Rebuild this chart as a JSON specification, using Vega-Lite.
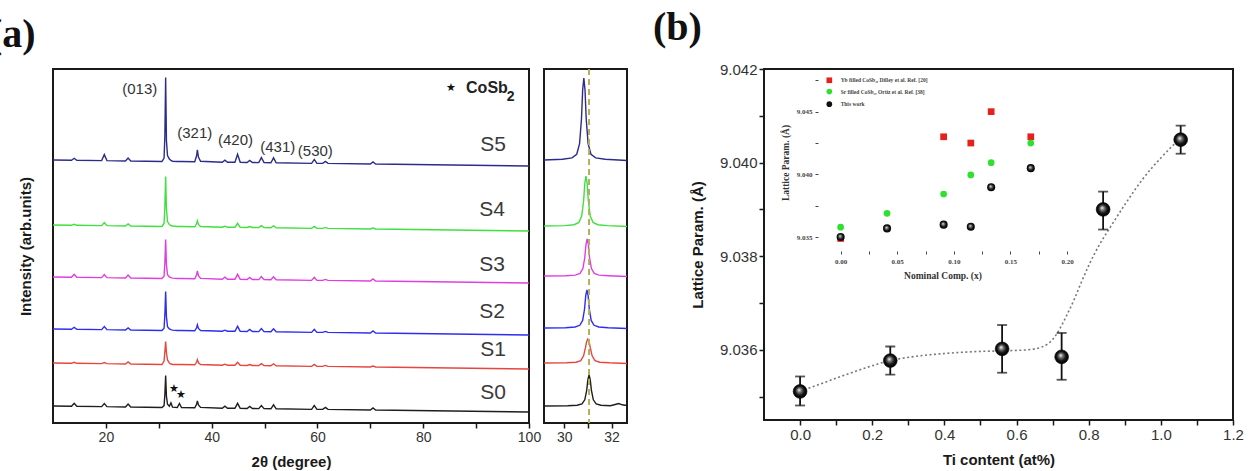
{
"$schema": "https://vega.github.io/schema/vega-lite/v6.json",
"autosize": {"type": "none"},
"padding": {"left": 53, "top": 69, "right": 1202, "bottom": 402},
"background": "white",
"config": {
  "view": {"stroke": "#1a1a1a", "strokeWidth": 2},
  "axis": {"grid": false, "domain": false, "labelFont": "Liberation Sans", "labelFontSize": 14, "labelColor": "#333", "tickColor": "#1a1a1a", "tickWidth": 1.5, "tickSize": 5, "titleFont": "Liberation Sans", "titleFontSize": 15, "titleFontWeight": "bold", "titleColor": "#1a1a1a", "labelOverlap": false, "labelFlush": false},
  "title": {"font": "Liberation Serif", "fontSize": 40, "fontWeight": "bold", "color": "#111", "anchor": "start", "frame": "group", "baseline": "alphabetic"}
},
"bounds": "flush",
"spacing": 15,
"hconcat": [
  {
   "width": 476, "height": 354,
   "title": {"text": "(a)", "dx": -64, "offset": 14},
   "layer": [
    {
     "data": {"values": [
      {"t":10,"S0":17,"S1":60,"S2":94,"S3":146,"S4":198,"S5":263},
      {"t":13.5,"S0":16.7,"S1":59.7,"S2":93.7,"S3":145.7,"S4":197.7,"S5":262.7},
      {"t":14,"S0":19.7,"S1":60.7,"S2":95.7,"S3":148.7,"S4":198.7,"S5":264.7},
      {"t":14.5,"S0":16.7,"S1":59.7,"S2":93.7,"S3":145.7,"S4":197.7,"S5":262.7},
      {"t":19.2,"S0":16.4,"S1":59.4,"S2":93.4,"S3":145.4,"S4":197.4,"S5":262.4},
      {"t":19.7,"S0":19.4,"S1":60.4,"S2":96.4,"S3":148.4,"S4":200.4,"S5":268.4},
      {"t":20.2,"S0":16.4,"S1":59.4,"S2":93.4,"S3":145.4,"S4":197.4,"S5":262.4},
      {"t":23.7,"S0":16,"S1":59,"S2":93,"S3":145,"S4":197,"S5":262},
      {"t":24.2,"S0":19,"S1":61,"S2":95,"S3":148,"S4":199,"S5":265},
      {"t":24.7,"S0":16,"S1":59,"S2":93,"S3":145,"S4":197,"S5":262},
      {"t":30.6,"S0":15.5,"S1":58.5,"S2":92.5,"S3":144.5,"S4":196.5,"S5":261.5},
      {"t":31.0,"S0":17.4,"S1":62,"S2":94.8,"S3":146.8,"S4":199.5,"S5":264.9},
      {"t":31.15,"S0":28.3,"S1":71.2,"S2":108.1,"S3":160.1,"S4":216.5,"S5":286.7},
      {"t":31.3,"S0":47.5,"S1":81.5,"S2":131.5,"S3":183.5,"S4":246.5,"S5":345.5},
      {"t":31.45,"S0":26.7,"S1":70,"S2":106.2,"S3":158.2,"S4":214,"S5":282.5},
      {"t":31.65,"S0":18.7,"S1":63.1,"S2":96.4,"S3":148.4,"S4":201.5,"S5":267.4},
      {"t":32.0,"S0":16.8,"S1":59.9,"S2":94.1,"S3":146.1,"S4":198.5,"S5":264},
      {"t":32.3,"S0":20.1,"S1":59,"S2":93.3,"S3":145.3,"S4":197.5,"S5":262.5},
      {"t":32.6,"S0":15.8,"S1":58.5,"S2":92.9,"S3":144.9,"S4":197,"S5":261.8},
      {"t":33.5,"S0":15.5,"S1":58.5,"S2":92.5,"S3":144.5,"S4":196.5,"S5":261.5},
      {"t":33.9,"S0":19.5,"S1":58.5,"S2":92.5,"S3":144.5,"S4":196.5,"S5":261.5},
      {"t":34.3,"S0":15.5,"S1":58.5,"S2":92.5,"S3":144.5,"S4":196.5,"S5":261.5},
      {"t":36.8,"S0":15.2,"S1":58.2,"S2":92.2,"S3":144.2,"S4":196.2,"S5":261.2},
      {"t":37.15,"S0":18.7,"S1":60.7,"S2":95.2,"S3":148.2,"S4":199.2,"S5":267.2},
      {"t":37.3,"S0":22.2,"S1":63.2,"S2":98.2,"S3":152.2,"S4":202.2,"S5":273.2},
      {"t":37.5,"S0":18,"S1":60.2,"S2":94.6,"S3":147.4,"S4":198.6,"S5":266},
      {"t":37.9,"S0":15.6,"S1":58.5,"S2":92.5,"S3":144.6,"S4":196.5,"S5":261.8},
      {"t":42,"S0":14.8,"S1":57.8,"S2":91.8,"S3":143.8,"S4":195.8,"S5":260.8},
      {"t":42.5,"S0":16.8,"S1":58.8,"S2":92.8,"S3":145.8,"S4":196.8,"S5":262.8},
      {"t":43,"S0":14.8,"S1":57.8,"S2":91.8,"S3":143.8,"S4":195.8,"S5":260.8},
      {"t":44.4,"S0":14.7,"S1":57.7,"S2":91.7,"S3":143.7,"S4":195.7,"S5":260.7},
      {"t":44.9,"S0":19.7,"S1":60.7,"S2":96.7,"S3":148.7,"S4":199.7,"S5":268.7},
      {"t":45.4,"S0":14.7,"S1":57.7,"S2":91.7,"S3":143.7,"S4":195.7,"S5":260.7},
      {"t":46.7,"S0":14.5,"S1":57.5,"S2":91.5,"S3":143.5,"S4":195.5,"S5":260.5},
      {"t":47.2,"S0":16.5,"S1":58.5,"S2":93.5,"S3":145.5,"S4":196.5,"S5":262.5},
      {"t":47.7,"S0":14.5,"S1":57.5,"S2":91.5,"S3":143.5,"S4":195.5,"S5":260.5},
      {"t":48.9,"S0":14.4,"S1":57.4,"S2":91.4,"S3":143.4,"S4":195.4,"S5":260.4},
      {"t":49.4,"S0":17.4,"S1":59.4,"S2":94.4,"S3":146.4,"S4":197.4,"S5":265.4},
      {"t":49.9,"S0":14.4,"S1":57.4,"S2":91.4,"S3":143.4,"S4":195.4,"S5":260.4},
      {"t":51.2,"S0":14.2,"S1":57.2,"S2":91.2,"S3":143.2,"S4":195.2,"S5":260.2},
      {"t":51.7,"S0":18.2,"S1":59.2,"S2":94.2,"S3":146.2,"S4":197.2,"S5":265.2},
      {"t":52.2,"S0":14.2,"S1":57.2,"S2":91.2,"S3":143.2,"S4":195.2,"S5":260.2},
      {"t":58.9,"S0":13.6,"S1":56.6,"S2":90.6,"S3":142.6,"S4":194.6,"S5":259.6},
      {"t":59.4,"S0":17.6,"S1":58.6,"S2":93.6,"S3":145.6,"S4":196.6,"S5":263.6},
      {"t":59.9,"S0":13.6,"S1":56.6,"S2":90.6,"S3":142.6,"S4":194.6,"S5":259.6},
      {"t":61,"S0":13.6,"S1":56.6,"S2":90.6,"S3":142.6,"S4":194.6,"S5":259.6},
      {"t":61.5,"S0":15.6,"S1":57.6,"S2":91.6,"S3":143.6,"S4":195.6,"S5":261.6},
      {"t":62,"S0":13.6,"S1":56.6,"S2":90.6,"S3":142.6,"S4":194.6,"S5":259.6},
      {"t":70,"S0":13,"S1":56,"S2":90,"S3":142,"S4":194,"S5":259},
      {"t":70.5,"S0":15,"S1":57,"S2":92,"S3":144,"S4":195,"S5":261},
      {"t":71,"S0":13,"S1":56,"S2":90,"S3":142,"S4":194,"S5":259},
      {"t":100,"S0":11,"S1":54,"S2":88,"S3":140,"S4":192,"S5":257}
     ]},
     "transform": [{"fold": ["S0","S1","S2","S3","S4","S5"], "as": ["sample","I"]}],
     "mark": {"type": "line", "strokeWidth": 1.4},
     "encoding": {
      "x": {"field": "t", "type": "quantitative", "scale": {"domain": [10,100], "nice": false, "zero": false},
            "axis": {"values": [20,30,40,50,60,70,80,90,100], "labelExpr": "datum.value % 20 == 0 ? datum.label : ''", "title": "2θ (degree)", "titlePadding": 10}},
      "y": {"field": "I", "type": "quantitative", "scale": {"domain": [0,354], "nice": false, "zero": false},
            "axis": {"labels": false, "ticks": false, "title": "Intensity (arb.units)", "titlePadding": 20}},
      "color": {"field": "sample", "type": "nominal", "scale": {"domain": ["S0","S1","S2","S3","S4","S5"], "range": ["#1e1e1e","#e5473f","#2e2ef0","#e03fe0","#3fe03f","#2c2c8a"]}, "legend": null}
     }
    },
    {
     "data": {"values": [
      {"t":26.4,"I":334,"label":"(013)"},
      {"t":36.8,"I":290,"label":"(321)"},
      {"t":44.5,"I":283,"label":"(420)"},
      {"t":52.5,"I":276,"label":"(431)"},
      {"t":59.6,"I":272,"label":"(530)"}
     ]},
     "mark": {"type": "text", "fontSize": 15, "color": "#333", "font": "Liberation Sans"},
     "encoding": {"x": {"field": "t", "type": "quantitative"}, "y": {"field": "I", "type": "quantitative"}, "text": {"field": "label"}}
    },
    {
     "data": {"values": [
      {"t":93.2,"I":278,"label":"S5"},
      {"t":93.0,"I":213,"label":"S4"},
      {"t":93.0,"I":158,"label":"S3"},
      {"t":93.0,"I":111,"label":"S2"},
      {"t":93.2,"I":73,"label":"S1"},
      {"t":93.2,"I":30,"label":"S0"}
     ]},
     "mark": {"type": "text", "fontSize": 21, "color": "#3a3a3a", "font": "Liberation Sans"},
     "encoding": {"x": {"field": "t", "type": "quantitative"}, "y": {"field": "I", "type": "quantitative"}, "text": {"field": "label"}}
    },
    {
     "data": {"values": [{"t":32.8,"I":34},{"t":34.2,"I":28},{"t":85.3,"I":335}]},
     "mark": {"type": "text", "text": "★", "fontSize": 11, "color": "#111"},
     "encoding": {"x": {"field": "t", "type": "quantitative"}, "y": {"field": "I", "type": "quantitative"}}
    },
    {
     "data": {"values": [{}]},
     "mark": {"type": "text", "text": "CoSb", "fontSize": 16, "fontWeight": "bold", "align": "left", "color": "#222", "font": "Liberation Sans"},
     "encoding": {"x": {"datum": 88.1}, "y": {"datum": 335}}
    },
    {
     "data": {"values": [{}]},
     "mark": {"type": "text", "text": "2", "fontSize": 14, "fontWeight": "bold", "align": "left", "color": "#222", "font": "Liberation Sans"},
     "encoding": {"x": {"datum": 95.8}, "y": {"datum": 326}}
    }
   ]
  },
  {
   "width": 83, "height": 354,
   "layer": [
    {
     "data": {"values": [
      {"s":"S5","t":29.15,"I":263},{"s":"S5","t":29.93,"I":263.7},{"s":"S5","t":30.33,"I":265.1},{"s":"S5","t":30.53,"I":268.7},{"s":"S5","t":30.65,"I":279.4},{"s":"S5","t":30.73,"I":304},{"s":"S5","t":30.78,"I":332.7},{"s":"S5","t":30.83,"I":345},{"s":"S5","t":30.88,"I":332.7},{"s":"S5","t":30.93,"I":304},{"s":"S5","t":31.01,"I":279.4},{"s":"S5","t":31.13,"I":268.7},{"s":"S5","t":31.33,"I":265.1},{"s":"S5","t":31.73,"I":263.7},{"s":"S5","t":32.65,"I":262.5},
      {"s":"S4","t":29.15,"I":197},{"s":"S4","t":30.02,"I":197.4},{"s":"S4","t":30.42,"I":198.3},{"s":"S4","t":30.62,"I":200.5},{"s":"S4","t":30.74,"I":207},{"s":"S4","t":30.82,"I":222},{"s":"S4","t":30.87,"I":239.5},{"s":"S4","t":30.92,"I":247},{"s":"S4","t":30.97,"I":239.5},{"s":"S4","t":31.02,"I":222},{"s":"S4","t":31.10,"I":207},{"s":"S4","t":31.22,"I":200.5},{"s":"S4","t":31.42,"I":198.3},{"s":"S4","t":31.82,"I":197.4},{"s":"S4","t":32.65,"I":196.5},
      {"s":"S3","t":29.15,"I":147},{"s":"S3","t":30.07,"I":147.3},{"s":"S3","t":30.47,"I":147.9},{"s":"S3","t":30.67,"I":149.6},{"s":"S3","t":30.79,"I":154.4},{"s":"S3","t":30.87,"I":165.5},{"s":"S3","t":30.92,"I":178.5},{"s":"S3","t":30.97,"I":184},{"s":"S3","t":31.02,"I":178.5},{"s":"S3","t":31.07,"I":165.5},{"s":"S3","t":31.15,"I":154.4},{"s":"S3","t":31.27,"I":149.6},{"s":"S3","t":31.47,"I":147.9},{"s":"S3","t":31.87,"I":147.3},{"s":"S3","t":32.65,"I":146.5},
      {"s":"S2","t":29.15,"I":95},{"s":"S2","t":30.06,"I":95.3},{"s":"S2","t":30.46,"I":96},{"s":"S2","t":30.66,"I":97.7},{"s":"S2","t":30.78,"I":102.6},{"s":"S2","t":30.86,"I":114},{"s":"S2","t":30.91,"I":127.3},{"s":"S2","t":30.96,"I":133},{"s":"S2","t":31.01,"I":127.3},{"s":"S2","t":31.06,"I":114},{"s":"S2","t":31.14,"I":102.6},{"s":"S2","t":31.26,"I":97.7},{"s":"S2","t":31.46,"I":96},{"s":"S2","t":31.86,"I":95.3},{"s":"S2","t":32.65,"I":94.5},
      {"s":"S1","t":29.15,"I":60},{"s":"S1","t":30.1,"I":60.2},{"s":"S1","t":30.5,"I":60.8},{"s":"S1","t":30.7,"I":62.4},{"s":"S1","t":30.82,"I":67.2},{"s":"S1","t":30.9,"I":75.6},{"s":"S1","t":30.95,"I":81.6},{"s":"S1","t":31.0,"I":84},{"s":"S1","t":31.05,"I":81.6},{"s":"S1","t":31.1,"I":75.6},{"s":"S1","t":31.18,"I":67.2},{"s":"S1","t":31.3,"I":62.4},{"s":"S1","t":31.5,"I":60.8},{"s":"S1","t":31.9,"I":60.2},{"s":"S1","t":32.65,"I":59.5},
      {"s":"S0","t":29.15,"I":17},{"s":"S0","t":30.15,"I":17.2},{"s":"S0","t":30.55,"I":17.8},{"s":"S0","t":30.75,"I":19.2},{"s":"S0","t":30.87,"I":23.2},{"s":"S0","t":30.95,"I":32.5},{"s":"S0","t":31.0,"I":43.4},{"s":"S0","t":31.05,"I":48},{"s":"S0","t":31.1,"I":43.4},{"s":"S0","t":31.15,"I":32.5},{"s":"S0","t":31.23,"I":23.2},{"s":"S0","t":31.35,"I":19.2},{"s":"S0","t":31.55,"I":17.8},{"s":"S0","t":31.95,"I":17.2},{"s":"S0","t":32.15,"I":18.5},{"s":"S0","t":32.3,"I":19.5},{"s":"S0","t":32.45,"I":18.2},{"s":"S0","t":32.65,"I":17.5}
     ]},
     "mark": {"type": "line", "strokeWidth": 1.4},
     "encoding": {
      "x": {"field": "t", "type": "quantitative", "scale": {"domain": [29.15,32.65], "nice": false, "zero": false},
            "axis": {"values": [30,31,32], "labelExpr": "datum.value == 31 ? '' : datum.label", "title": null}},
      "y": {"field": "I", "type": "quantitative", "scale": {"domain": [0,354], "nice": false, "zero": false}, "axis": null},
      "color": {"field": "s", "type": "nominal", "scale": {"domain": ["S0","S1","S2","S3","S4","S5"], "range": ["#1e1e1e","#e5473f","#2e2ef0","#e03fe0","#3fe03f","#2c2c8a"]}, "legend": null}
     }
    },
    {
     "data": {"values": [{}]},
     "mark": {"type": "rule", "color": "#b3b05a", "strokeWidth": 2, "strokeDash": [6,4]},
     "encoding": {"x": {"datum": 31.05}}
    }
   ]
  },
  {
   "width": 107, "height": 10,
   "view": {"stroke": null},
   "data": {"values": []},
   "mark": {"type": "point", "opacity": 0},
   "encoding": {}
  },
 {
  "width": 469, "height": 351,
  "title": {"text": "(b)", "dx": -111, "offset": 14},
  "resolve": {"scale": {"x": "independent", "y": "independent"}, "axis": {"x": "independent", "y": "independent"}},
  "layer": [
   {
    "encoding": {
     "x": {"field": "x", "type": "quantitative", "scale": {"domain": [-0.1,1.2], "nice": false, "zero": false},
           "axis": {"values": [0,0.1,0.2,0.3,0.4,0.5,0.6,0.7,0.8,0.9,1.0,1.1,1.2], "labelExpr": "round(datum.value*10) % 2 == 0 ? format(datum.value, '.1f') : ''", "title": "Ti content (at%)", "titlePadding": 10, "labelFontSize": 15}}
    },
    "layer": [
     {
      "data": {"values": [
       {"x":0,"y":9.03511},{"x":0.06,"y":9.03528},{"x":0.12,"y":9.03545},{"x":0.18,"y":9.03561},{"x":0.25,"y":9.03577},{"x":0.32,"y":9.03586},{"x":0.40,"y":9.03592},{"x":0.48,"y":9.03596},{"x":0.57,"y":9.03598},{"x":0.63,"y":9.036},{"x":0.67,"y":9.03606},{"x":0.70,"y":9.03622},{"x":0.72,"y":9.03645},{"x":0.74,"y":9.03675},{"x":0.76,"y":9.03708},{"x":0.78,"y":9.03745},{"x":0.80,"y":9.0378},{"x":0.83,"y":9.03825},{"x":0.86,"y":9.03862},{"x":0.90,"y":9.0391},{"x":0.95,"y":9.03965},{"x":1.00,"y":9.0401},{"x":1.05,"y":9.04049}
      ]},
      "mark": {"type": "line", "color": "#777", "strokeWidth": 1.6, "strokeDash": [2,2.5], "interpolate": "monotone"},
      "encoding": {"y": {"field": "y", "type": "quantitative", "scale": {"domain": [9.0345,9.042], "nice": false, "zero": false},
        "axis": {"values": [9.035,9.036,9.037,9.038,9.039,9.04,9.041,9.042], "labelExpr": "round(datum.value*1000) % 2 == 0 ? format(datum.value, '.3f') : ''", "title": "Lattice Param. (Å)", "titlePadding": 14, "labelFontSize": 15}}}
     },
     {
      "data": {"values": [
       {"x":0,"y":9.03511,"lo":9.03481,"hi":9.03543},
       {"x":0.25,"y":9.03577,"lo":9.03547,"hi":9.03607},
       {"x":0.56,"y":9.03602,"lo":9.03551,"hi":9.03653},
       {"x":0.725,"y":9.03585,"lo":9.03536,"hi":9.03636},
       {"x":0.84,"y":9.039,"lo":9.03857,"hi":9.03938},
       {"x":1.055,"y":9.04049,"lo":9.04019,"hi":9.04079}
      ]},
      "layer": [
       {"mark": {"type": "rule", "color": "#111", "strokeWidth": 1.8},
        "encoding": {"y": {"field": "lo", "type": "quantitative", "title": "Lattice Param. (Å)"}, "y2": {"field": "hi"}}},
       {"mark": {"type": "tick", "orient": "horizontal", "size": 10, "thickness": 1.8, "color": "#111"},
        "encoding": {"y": {"field": "lo", "type": "quantitative", "title": "Lattice Param. (Å)"}}},
       {"mark": {"type": "tick", "orient": "horizontal", "size": 10, "thickness": 1.8, "color": "#111"},
        "encoding": {"y": {"field": "hi", "type": "quantitative", "title": "Lattice Param. (Å)"}}},
       {"mark": {"type": "point", "filled": true, "shape": "circle", "size": 190, "opacity": 1, "stroke": "#000", "strokeWidth": 0.6,
          "fill": {"gradient": "radial", "x1": 0.42, "y1": 0.38, "r1": 0, "x2": 0.5, "y2": 0.5, "r2": 0.5, "stops": [{"offset": 0, "color": "#ffffff"}, {"offset": 0.3, "color": "#777777"}, {"offset": 0.65, "color": "#151515"}, {"offset": 1, "color": "#000000"}]}},
        "encoding": {"y": {"field": "y", "type": "quantitative", "title": "Lattice Param. (Å)"}}}
      ]
     }
    ]
   },
   {
    "encoding": {
     "x": {"field": "x", "type": "quantitative", "scale": {"domain": [-0.02,0.2], "range": [54,303], "nice": false, "zero": false},
           "axis": {"orient": "bottom", "offset": -169, "values": [0,0.025,0.05,0.075,0.1,0.125,0.15,0.175,0.2], "labelExpr": "round(datum.value*1000) % 50 == 0 ? format(datum.value, '.2f') : ''", "labelFont": "Liberation Serif", "labelFontSize": 7, "labelFontWeight": "bold", "labelColor": "#444", "tickSize": 3, "tickWidth": 1, "tickColor": "#444", "labelPadding": 3, "title": "Nominal Comp. (x)", "titleFont": "Liberation Serif", "titleFontSize": 9.5, "titleColor": "#333", "titlePadding": 6}},
     "y": {"field": "y", "type": "quantitative", "scale": {"domain": [9.0339,9.048], "range": [182,5], "nice": false, "zero": false},
           "axis": {"orient": "left", "offset": -54, "values": [9.035,9.0375,9.04,9.0425,9.045,9.0475], "labelExpr": "round(datum.value*10000) % 50 == 0 ? format(datum.value, '.3f') : ''", "labelFont": "Liberation Serif", "labelFontSize": 7, "labelFontWeight": "bold", "labelColor": "#444", "tickSize": 3, "tickWidth": 1, "tickColor": "#444", "labelPadding": 3, "title": "Lattice Param. (Å)", "titleFont": "Liberation Serif", "titleFontSize": 9.5, "titleColor": "#333", "titlePadding": 6}}
    },
    "layer": [
     {"data": {"values": [{}]},
      "mark": {"type": "rect", "fill": "white", "stroke": "#333", "strokeWidth": 1.5},
      "encoding": {"x": {"datum": -0.02}, "x2": {"datum": 0.2}, "y": {"datum": 9.0339}, "y2": {"datum": 9.048}}},
     {"data": {"values": [{"x":0.0,"y":9.0349},{"x":0.091,"y":9.043},{"x":0.115,"y":9.0425},{"x":0.133,"y":9.045},{"x":0.168,"y":9.043}]},
      "mark": {"type": "square", "color": "#e8201c", "size": 45, "opacity": 1}},
     {"data": {"values": [{"x":0.0,"y":9.0358},{"x":0.041,"y":9.0369},{"x":0.091,"y":9.03844},{"x":0.115,"y":9.03996},{"x":0.133,"y":9.04094},{"x":0.168,"y":9.0425}]},
      "mark": {"type": "circle", "color": "#2fe02f", "size": 45, "opacity": 1}},
     {"data": {"values": [{"x":0.0,"y":9.03502},{"x":0.041,"y":9.0357},{"x":0.091,"y":9.036},{"x":0.115,"y":9.03583},{"x":0.133,"y":9.03898},{"x":0.168,"y":9.0405}]},
      "mark": {"type": "point", "filled": true, "shape": "circle", "size": 65, "opacity": 1,
        "fill": {"gradient": "radial", "x1": 0.42, "y1": 0.38, "r1": 0, "x2": 0.5, "y2": 0.5, "r2": 0.5, "stops": [{"offset": 0, "color": "#ffffff"}, {"offset": 0.3, "color": "#777777"}, {"offset": 0.65, "color": "#151515"}, {"offset": 1, "color": "#000000"}]}}},
     {"data": {"values": [
        {"k":"Yb","lx":-0.01,"tx":0.0,"y":9.0475,"label":"Yb filled CoSb₃, Dilley et al. Ref. [20]"},
        {"k":"Sr","lx":-0.01,"tx":0.0,"y":9.0466,"label":"Sr filled CoSb₃, Ortiz et al. Ref. [38]"},
        {"k":"This","lx":-0.01,"tx":0.0,"y":9.0456,"label":"This work"}
      ]},
      "layer": [
       {"transform": [{"filter": "datum.k == 'Yb'"}], "mark": {"type": "square", "color": "#e8201c", "size": 32, "opacity": 1},
        "encoding": {"x": {"field": "lx", "type": "quantitative"}}},
       {"transform": [{"filter": "datum.k == 'Sr'"}], "mark": {"type": "circle", "color": "#2fe02f", "size": 32, "opacity": 1},
        "encoding": {"x": {"field": "lx", "type": "quantitative"}}},
       {"transform": [{"filter": "datum.k == 'This'"}], "mark": {"type": "circle", "color": "#111", "size": 32, "opacity": 1},
        "encoding": {"x": {"field": "lx", "type": "quantitative"}}},
       {"mark": {"type": "text", "font": "Liberation Serif", "fontWeight": "bold", "fontSize": 5.5, "align": "left", "color": "#444"},
        "encoding": {"x": {"field": "tx", "type": "quantitative"}, "text": {"field": "label"}}}
      ]
     }
    ]
   }
  ]
 }
]
}
